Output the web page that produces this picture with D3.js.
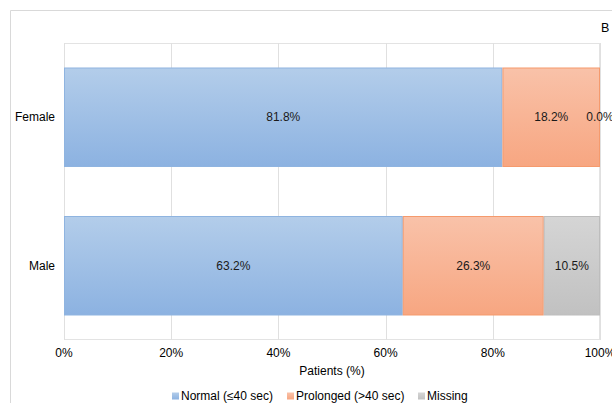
<!DOCTYPE html>
<html>
<head>
<meta charset="utf-8">
<script src="https://cdn.jsdelivr.net/npm/d3@7"></script>
<style>
  html, body { margin: 0; padding: 0; background: #fff; }
  svg { display: block; font-family: "Liberation Sans", Arial, sans-serif; }
</style>
</head>
<body>
<svg id="chart" width="612" height="403"></svg>
<script>
// Sex groups, one horizontal stacked bar each
const categories = ["Female", "Male"];
const seriesNames = ["Normal (\u226440 sec)", "Prolonged (>40 sec)", "Missing"];
const normalValues = [81.8, 63.2];
const prolongedValues = [18.2, 26.3];
const missingValues = [0.0, 10.5];
const xTicks = [0, 20, 40, 60, 80, 100];

const svg = d3.select("#chart");
const FONT = 12;

// Outer panel border (top and left edges visible)
svg.append("path")
  .attr("d", "M10.5,403 L10.5,10.5 L612,10.5")
  .attr("fill", "none").attr("stroke", "#d9d9d9").attr("stroke-width", 1);

svg.append("text").attr("x", 601).attr("y", 32)
  .attr("font-size", 12.5).attr("fill", "#000").text("B");

const x = d3.scaleLinear().domain([0, 100]).range([64, 600]);
const y = d3.scaleBand().domain(categories).range([43, 340])
  .paddingInner(0.33).paddingOuter(0.165);

// Gradients for the series
const defs = svg.append("defs");
const palettes = [
  { id: "gNormal", top: "#b3cdea", bottom: "#8cb2e1", stroke: "#8fb4e0" },
  { id: "gProlonged", top: "#f9c2a9", bottom: "#f7a681", stroke: "#f59a6d" },
  { id: "gMissing", top: "#d5d5d5", bottom: "#c1c1c1", stroke: "#bdbdbd" }
];
palettes.forEach(p => {
  const g = defs.append("linearGradient").attr("id", p.id)
    .attr("x1", 0).attr("y1", 0).attr("x2", 0).attr("y2", 1);
  g.append("stop").attr("offset", "0%").attr("stop-color", p.top);
  g.append("stop").attr("offset", "100%").attr("stop-color", p.bottom);
});

// Plot area frame and vertical gridlines
svg.append("rect").attr("x", 64.5).attr("y", 43.5)
  .attr("width", 536 - 1).attr("height", 297 - 1)
  .attr("fill", "none").attr("stroke", "#e3e3e3");
svg.append("g").selectAll("line").data(xTicks).join("line")
  .attr("x1", d => Math.round(x(d)) + 0.5).attr("x2", d => Math.round(x(d)) + 0.5)
  .attr("y1", 43).attr("y2", 340)
  .attr("stroke", "#e0e0e0");

// Stacked segments
const rows = categories.map((c, i) => ({
  cat: c, values: [normalValues[i], prolongedValues[i], missingValues[i]]
}));
const segs = [];
rows.forEach(r => {
  let acc = 0;
  r.values.forEach((v, k) => {
    segs.push({ cat: r.cat, k, v, x0: acc, x1: acc + v });
    acc += v;
  });
});

const gBars = svg.append("g");
gBars.selectAll("rect").data(segs.filter(s => s.v > 0)).join("rect")
  .attr("x", d => x(d.x0) + 0.5)
  .attr("y", d => y(d.cat) + 0.5)
  .attr("width", d => x(d.x1) - x(d.x0) - 1)
  .attr("height", y.bandwidth() - 1)
  .attr("fill", d => `url(#${palettes[d.k].id})`)
  .attr("stroke", d => palettes[d.k].stroke)
  .attr("stroke-width", 1);

// Value labels centred in each segment
gBars.selectAll("text").data(segs).join("text")
  .attr("x", d => (x(d.x0) + x(d.x1)) / 2)
  .attr("y", d => y(d.cat) + y.bandwidth() / 2)
  .attr("dy", "0.35em")
  .attr("text-anchor", "middle")
  .attr("font-size", FONT).attr("fill", "#1a1a1a")
  .text(d => d.v.toFixed(1) + "%");

// Category labels
svg.append("g").selectAll("text").data(categories).join("text")
  .attr("x", 55).attr("y", d => y(d) + y.bandwidth() / 2)
  .attr("dy", "0.35em").attr("text-anchor", "end")
  .attr("font-size", FONT).attr("fill", "#000")
  .text(d => d);

// X tick labels
svg.append("g").selectAll("text").data(xTicks).join("text")
  .attr("x", d => x(d)).attr("y", 353).attr("dy", "0.35em")
  .attr("text-anchor", "middle").attr("font-size", FONT).attr("fill", "#000")
  .text(d => d + "%");

svg.append("text").attr("x", 332).attr("y", 371).attr("dy", "0.35em")
  .attr("text-anchor", "middle").attr("font-size", FONT).attr("fill", "#000")
  .text("Patients (%)");

// Legend
const legendX = [172, 287, 418];
const lg = svg.append("g").selectAll("g").data(seriesNames).join("g")
  .attr("transform", (d, i) => `translate(${legendX[i]},396)`);
lg.append("rect").attr("x", 0).attr("y", -3.5).attr("width", 7).attr("height", 7)
  .attr("fill", (d, i) => `url(#${palettes[i].id})`);
lg.append("text").attr("x", 9).attr("dy", "0.35em")
  .attr("font-size", FONT).attr("fill", "#000").text(d => d);
</script>
</body>
</html>
